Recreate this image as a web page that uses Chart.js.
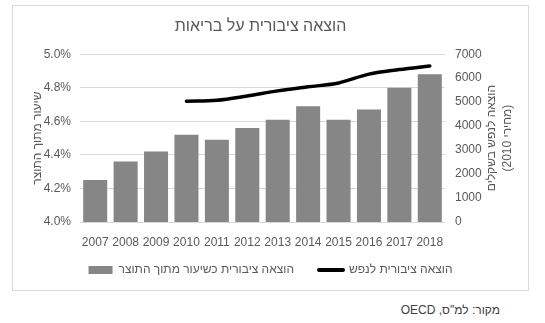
<!DOCTYPE html>
<html lang="he">
<head>
<meta charset="utf-8">
<script src="https://cdn.jsdelivr.net/npm/chart.js@4/dist/chart.umd.min.js"></script>
<style>
  body { margin: 0; background: #fff; width: 545px; height: 323px; position: relative; overflow: hidden;
         font-family: "Liberation Sans", "DejaVu Sans", sans-serif; }
  #frame { position: absolute; left: 12px; top: 5px; width: 515px; height: 284px; border: 1px solid #d9d9d9; }
  #source { position: absolute; right: 45px; top: 303px; font-size: 12px; color: #404040; direction: rtl; }
</style>
</head>
<body>
<div id="frame"><canvas id="healthChart" width="515" height="284"></canvas></div>
<div id="source">מקור: למ"ס, OECD</div>
<script>
// public health spending, 2007-2018
const years = ['2007', '2008', '2009', '2010', '2011', '2012', '2013', '2014', '2015', '2016', '2017', '2018'];
const shareOfGdp = [4.25, 4.36, 4.42, 4.52, 4.49, 4.56, 4.61, 4.69, 4.61, 4.67, 4.80, 4.88];
const perCapita = [null, null, null, 5040, 5080, 5260, 5470, 5640, 5800, 6170, 6360, 6510];

const shareLabel = 'הוצאה ציבורית כשיעור מתוך התוצר';
const perCapitaLabel = 'הוצאה ציבורית לנפש';
const leftTitle = 'שיעור מתוך התוצר';
const rightTitle = ['הוצאה לנפש בשקלים', '(מחירי 2010)'];

const FONT = '"Liberation Sans", "DejaVu Sans", sans-serif';
const TEXT = '#595959';

Chart.defaults.font.family = FONT;
Chart.defaults.font.size = 12;
Chart.defaults.color = TEXT;

// right axis title reads bottom-to-top like the left one
const rightTitlePlugin = {
  id: 'rightTitle',
  afterDraw(chart) {
    const { ctx, chartArea } = chart;
    const cy = (chartArea.top + chartArea.bottom) / 2;
    ctx.save();
    ctx.fillStyle = TEXT;
    ctx.font = '12px ' + FONT;
    ctx.textAlign = 'center';
    ctx.textBaseline = 'middle';
    ctx.direction = 'rtl';
    rightTitle.forEach((line, i) => {
      ctx.save();
      ctx.translate(chartArea.right + 47 + i * 16, cy);
      ctx.rotate(-Math.PI / 2);
      ctx.fillText(line, 0, 0);
      ctx.restore();
    });
    ctx.restore();
  }
};

// title sits over the plot, legend tucked up under the year labels
const boxShift = {
  id: 'boxShift',
  afterLayout(chart) {
    chart.titleBlock.left -= 10;
    chart.titleBlock.right -= 10;
    chart.legend.top -= 11;
    chart.legend.bottom -= 11;
  }
};

new Chart(document.getElementById('healthChart'), {
  data: {
    labels: years,
    datasets: [
      {
        type: 'line',
        label: perCapitaLabel,
        data: perCapita,
        yAxisID: 'y1',
        borderColor: '#000',
        borderWidth: 3.5,
        pointRadius: 0,
        tension: 0.35,
        borderCapStyle: 'round'
      },
      {
        type: 'bar',
        label: shareLabel,
        data: shareOfGdp,
        yAxisID: 'y',
        backgroundColor: '#868686',
        barPercentage: 0.79,
        categoryPercentage: 1
      }
    ]
  },
  options: {
    responsive: false,
    animation: false,
    layout: { padding: { bottom: -7 } },
    plugins: {
      title: {
        display: true,
        text: 'הוצאה ציבורית על בריאות',
        color: TEXT,
        font: { size: 16, weight: 'normal' },
        padding: { top: 11, bottom: 18 }
      },
      legend: {
        position: 'bottom',
        reverse: true,
        labels: {
          usePointStyle: true,
          pointStyleWidth: 24,
          boxHeight: 8,
          padding: 25,
          color: TEXT,
          generateLabels(chart) {
            const items = Chart.defaults.plugins.legend.labels.generateLabels(chart);
            items.forEach(item => {
              const ds = chart.data.datasets[item.datasetIndex];
              if (ds.type === 'line') {
                item.pointStyle = 'line';
                item.strokeStyle = '#000';
                item.lineWidth = 4;
                item.lineCap = 'round';
              } else {
                item.pointStyle = 'rect';
                item.fillStyle = '#868686';
                item.lineWidth = 0;
              }
            });
            return items;
          }
        }
      },
      tooltip: { enabled: false }
    },
    scales: {
      x: {
        grid: { display: false, drawTicks: false },
        border: { display: false },
        ticks: { padding: 13, maxRotation: 0, autoSkip: false },
        afterFit(scale) { scale.height = 28; }
      },
      y: {
        position: 'left',
        min: 4.0,
        max: 5.0,
        ticks: {
          stepSize: 0.2,
          padding: 9,
          callback: v => v.toFixed(1) + '%'
        },
        grid: { color: '#d9d9d9', drawTicks: false },
        border: { display: false },
        title: { display: true, text: leftTitle, color: TEXT, padding: { top: 17, bottom: 0 } },
        afterFit(scale) { scale.width = 67; }
      },
      y1: {
        position: 'right',
        min: 0,
        max: 7000,
        ticks: { stepSize: 1000, padding: 10, callback: v => String(v) },
        grid: { display: false, drawTicks: false },
        border: { display: false },
        afterFit(scale) { scale.width = 83; }
      }
    }
  },
  plugins: [rightTitlePlugin, boxShift]
});
</script>
</body>
</html>
